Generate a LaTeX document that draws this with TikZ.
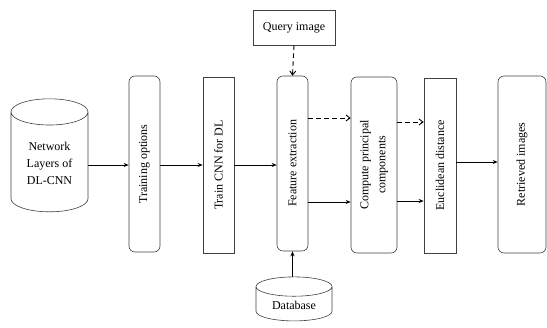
\documentclass[tikz,border=0pt]{standalone}
\usepackage{fontspec}
\setmainfont{Liberation Serif}
\usetikzlibrary{shapes.geometric}
\usetikzlibrary{arrows.meta}

\tikzset{
  stage/.style={draw=black!75, line width=0.6pt, rotate=90, align=center,
    minimum width=176pt, minimum height=31pt, inner sep=1pt},
  rstage/.style={stage, rounded corners=6pt},
  store/.style={cylinder, shape border rotate=90, draw=black!75, line width=0.6pt,
    align=center, inner sep=1pt},
  flow/.style={line width=0.9pt, -{Stealth[length=5pt,width=4pt]}},
  dflow/.style={line width=0.9pt, dash pattern=on 4.5pt off 3.5pt,
    -{Straight Barb[length=4pt,width=6pt]}}
}

\begin{document}
\begin{tikzpicture}[x=1pt,y=1pt,font=\fontsize{12}{17}\selectfont]
        \useasboundingbox (0,0) rectangle (547,328);
        % inputs
        \node[store, minimum width=77pt, minimum height=113pt, aspect=0.55] (net) at (49.5,164.5) {Network\\Layers of\\DL-CNN};
        \node[draw=black!75, line width=0.6pt, minimum width=82pt, minimum height=35pt] (query) at (294,300.5) {Query image};
        \node[store, minimum width=76pt, minimum height=44pt, aspect=0.42] (db) at (294,23) {Database};
        % processing stages
        \node[rstage] (train) at (144.5,164) {Training options};
        \node[stage] (cnn) at (218.5,163) {Train CNN for DL};
        \node[rstage, minimum width=175pt] (feat) at (292.5,164.5) {Feature extraction};
        \node[rstage, minimum height=46pt] (pca) at (374,163) {Compute principal\\components};
        \node[stage, minimum width=175pt, minimum height=32pt] (eucl) at (440,162.5) {Euclidean distance};
        \node[rstage, minimum width=177pt, minimum height=48pt] (ret) at (522,163.5) {Retrieved images};
        % connectors
        \draw[flow] (net.east |- 0,163) -- (train.north |- 0,163);
        \draw[flow] (train.south |- 0,163) -- (cnn.north |- 0,163);
        \draw[flow] (cnn.south |- 0,163) -- (feat.north |- 0,163);
        \draw[dflow] (query.south) -- (feat.east);
        \draw[flow] (feat.west |- db.north) -- (feat.west);
        \draw[dflow] (feat.south |- 0,210) -- (pca.north |- 0,210);
        \draw[flow] (feat.south |- 0,126) -- (pca.north |- 0,126);
        \draw[dflow] (pca.south |- 0,206) -- (eucl.north |- 0,206);
        \draw[flow] (pca.south |- 0,127) -- (eucl.north |- 0,127);
        \draw[flow] (eucl.south |- 0,166) -- (ret.north |- 0,166);
\end{tikzpicture}
\end{document}
